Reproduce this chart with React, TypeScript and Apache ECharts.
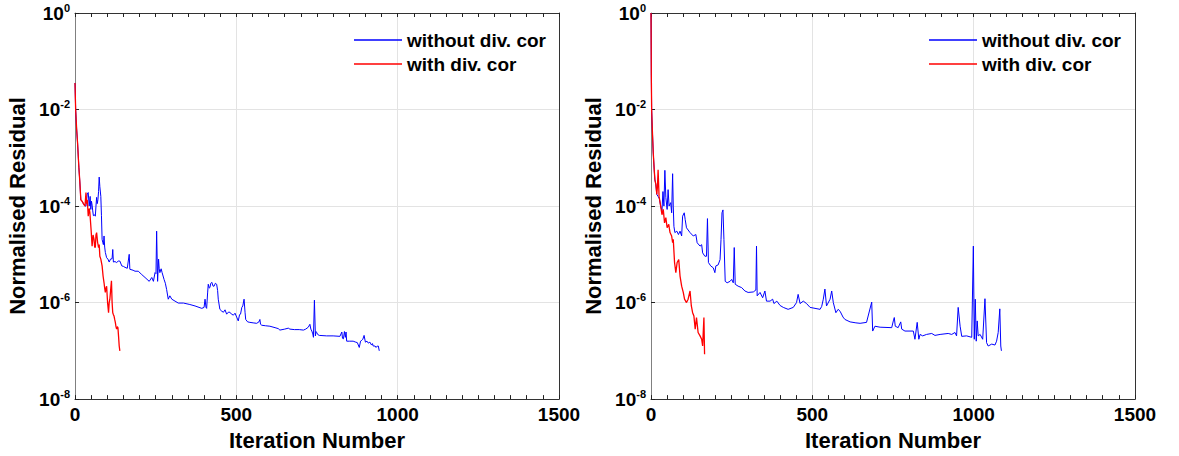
import React, { useEffect, useRef } from 'react';
import * as echarts from 'echarts';

// Each pair: [iteration, log10(normalised residual)]
const leftWithout: [number, number][] = [
  [0, -1.45], [2, -2.0], [5, -2.4], [8, -2.7], [12, -3.2], [15, -3.5], [18, -3.87], [22, -3.9], [26, -3.95], [31, -4.0],
  [34, -4.0], [38, -3.75], [41, -3.72], [44, -4.0], [47, -3.8], [49, -4.07], [51, -3.9], [53, -3.98], [55, -4.1], [57, -4.2],
  [60, -4.18], [63, -4.21], [65, -4.0], [67, -3.82], [69, -3.95], [71, -3.87], [73, -3.7], [75, -3.4], [77, -3.6], [80, -3.8],
  [82, -4.2], [84, -4.69], [86, -4.75], [88, -4.8], [90, -4.62], [92, -4.85], [94, -4.96], [98, -5.07], [102, -5.1], [106, -5.16],
  [110, -5.1], [115, -5.09], [117, -4.9], [119, -5.16], [124, -5.15], [129, -5.17], [134, -5.14], [139, -5.14], [145, -5.24],
  [150, -5.25], [155, -5.27], [162, -5.29], [168, -5.0], [170, -5.31], [180, -5.33], [186, -5.35], [196, -5.35], [207, -5.42],
  [217, -5.48], [230, -5.56], [238, -5.48], [243, -5.56], [248, -5.38], [251, -5.4], [253, -4.52], [256, -5.56], [259, -5.1],
  [261, -5.3], [263, -5.38], [267, -5.3], [270, -5.38], [276, -5.52], [280, -5.6], [284, -5.73], [289, -5.93], [294, -5.86],
  [300, -5.93], [310, -5.97], [320, -6.01], [336, -6.01], [356, -6.04], [372, -6.07], [393, -6.12], [400, -6.1], [403, -5.93],
  [406, -6.1], [408, -6.12], [411, -5.8], [413, -5.62], [416, -5.7], [418, -5.69], [421, -5.6], [424, -5.58], [428, -5.66],
  [431, -5.66], [435, -5.6], [439, -5.62], [442, -5.75], [444, -5.93], [449, -6.14], [455, -6.18], [460, -6.2], [465, -6.15],
  [470, -6.24], [475, -6.2], [480, -6.2], [485, -6.24], [491, -6.26], [496, -6.22], [501, -6.3], [506, -6.38], [510, -6.25],
  [513, -6.24], [517, -6.1], [520, -6.07], [524, -5.93], [527, -6.2], [529, -6.35], [535, -6.4], [542, -6.41], [552, -6.42],
  [563, -6.43], [570, -6.4], [573, -6.35], [575, -6.45], [579, -6.47], [590, -6.48], [604, -6.49], [620, -6.52], [630, -6.54],
  [635, -6.57], [650, -6.55], [661, -6.53], [666, -6.55], [680, -6.56], [695, -6.56], [708, -6.57], [715, -6.55], [723, -6.51],
  [728, -6.45], [731, -6.55], [734, -6.59], [737, -6.65], [739, -6.72], [742, -5.95], [745, -6.69], [747, -6.6], [749, -6.62],
  [752, -6.66], [757, -6.68], [780, -6.69], [800, -6.69], [821, -6.7], [827, -6.61], [829, -6.74], [832, -6.75], [835, -6.6],
  [838, -6.72], [840, -6.61], [842, -6.8], [850, -6.8], [862, -6.8], [870, -6.82], [875, -6.83], [881, -6.93], [885, -6.8],
  [889, -6.78], [892, -6.76], [896, -6.68], [900, -6.82], [905, -6.8], [909, -6.84], [914, -6.82], [919, -6.88], [922, -6.85],
  [924, -6.9], [930, -6.9], [933, -6.93], [937, -6.9], [940, -6.9], [943, -7.0],
];

const leftWith: [number, number][] = [
  [0, -1.45], [2, -2.0], [5, -2.4], [8, -2.7], [12, -3.2], [15, -3.5], [18, -3.87], [22, -3.9], [26, -3.95], [31, -4.0],
  [34, -3.72], [36, -3.95], [38, -3.87], [41, -4.21], [44, -4.05], [46, -4.13], [50, -4.5], [53, -4.83], [56, -4.6],
  [59, -4.69], [61, -4.85], [63, -4.86], [65, -4.6], [67, -4.55], [70, -4.75], [73, -4.86], [75, -4.8], [77, -5.04],
  [80, -5.1], [84, -5.24], [87, -5.45], [90, -5.59], [92, -5.7], [94, -5.79], [96, -5.7], [98, -5.66], [101, -6.0],
  [104, -6.21], [106, -6.0], [108, -5.93], [111, -5.7], [113, -5.55], [115, -6.0], [117, -6.21], [119, -6.25], [121, -6.28],
  [123, -6.35], [125, -6.41], [127, -6.5], [129, -6.55], [131, -6.5], [133, -6.52], [135, -6.7], [137, -6.9], [139, -7.0],
];

const rightWithout: [number, number][] = [
  [0, 0], [1, -1.3], [2, -2.0], [4, -2.4], [7, -2.9], [10, -3.25], [12, -3.45], [15, -3.55], [18, -3.76], [22, -3.8],
  [26, -3.85], [30, -4.0], [34, -4.1], [37, -3.7], [40, -4.0], [43, -3.26], [46, -3.82], [50, -4.07], [53, -3.66], [56, -4.0],
  [61, -3.93], [64, -4.14], [67, -3.33], [69, -4.0], [71, -4.42], [74, -4.55], [80, -4.52], [85, -4.59], [90, -4.52],
  [95, -4.62], [98, -4.21], [103, -4.14], [106, -4.28], [110, -4.45], [121, -4.55], [131, -4.62], [139, -4.59], [143, -4.76],
  [152, -4.83], [157, -4.8], [160, -4.97], [167, -5.04], [172, -5.04], [175, -4.26], [178, -5.17], [185, -5.24], [193, -5.28],
  [198, -5.38], [201, -5.24], [208, -5.22], [214, -5.11], [217, -4.69], [220, -4.14], [223, -4.08], [226, -4.69], [230, -5.56],
  [236, -5.59], [245, -5.56], [250, -5.52], [255, -5.59], [258, -4.86], [261, -5.62], [270, -5.66], [281, -5.69], [291, -5.76],
  [301, -5.79], [317, -5.78], [325, -5.74], [327, -4.83], [329, -5.86], [338, -5.79], [346, -5.9], [353, -5.76], [358, -5.97],
  [369, -5.97], [377, -5.93], [381, -6.02], [390, -5.97], [400, -6.06], [410, -6.1], [425, -6.14], [441, -6.1], [451, -6.0],
  [456, -5.83], [462, -6.02], [472, -5.97], [482, -6.02], [493, -6.1], [524, -6.14], [529, -6.08], [534, -5.93], [539, -5.72],
  [544, -6.07], [555, -5.93], [560, -5.76], [565, -6.0], [573, -6.21], [580, -6.14], [586, -6.18], [595, -6.3], [601, -6.35],
  [617, -6.4], [635, -6.42], [648, -6.43], [668, -6.41], [684, -5.99], [687, -6.59], [694, -6.49], [710, -6.51], [746, -6.52],
  [751, -6.38], [754, -6.31], [757, -6.49], [766, -6.52], [774, -6.4], [777, -6.55], [787, -6.59], [813, -6.59], [818, -6.76],
  [825, -6.41], [830, -6.76], [834, -6.66], [842, -6.69], [854, -6.66], [870, -6.64], [880, -6.68], [896, -6.66], [921, -6.64],
  [932, -6.66], [942, -6.62], [947, -6.69], [952, -6.1], [958, -6.49], [963, -6.7], [978, -6.69], [994, -6.72], [999, -4.83],
  [1002, -6.76], [1005, -5.93], [1008, -6.8], [1011, -6.38], [1014, -6.69], [1020, -6.66], [1028, -6.76], [1035, -5.92],
  [1040, -6.83], [1045, -6.9], [1056, -6.86], [1066, -6.88], [1071, -6.8], [1076, -6.62], [1081, -6.13], [1084, -6.9],
  [1086, -7.0],
];

const rightWith: [number, number][] = [
  [0, 0], [1, -1.3], [2, -2.0], [4, -2.4], [7, -2.9], [10, -3.25], [12, -3.45], [15, -3.55], [18, -3.76], [20, -3.6],
  [22, -3.25], [25, -3.8], [30, -4.0], [34, -4.18], [38, -4.07], [42, -4.35], [46, -4.24], [50, -4.45], [55, -4.38],
  [59, -4.55], [64, -4.62], [67, -4.76], [69, -4.69], [73, -5.17], [77, -5.38], [81, -5.17], [86, -5.11], [90, -5.45],
  [95, -5.66], [100, -5.79], [104, -5.93], [110, -6.0], [115, -5.93], [121, -5.76], [125, -6.07], [129, -6.21], [133, -6.28],
  [137, -6.55], [141, -6.31], [146, -6.62], [152, -6.69], [157, -6.76], [160, -6.9], [164, -6.31], [166, -7.07],
];

const seriesNames = ['without div. cor', 'with div. cor'];
const xTickValues = [0, 500, 1000, 1500];
const xTitle = 'Iteration Number';
const yTitle = 'Normalised Residual';

const FONT = '"Liberation Sans", Arial, Helvetica, sans-serif';
const BLUE = '#0000ff';
const RED = '#ff0000';
const GRIDC = '#e3e3e3';
const TICKC = '#222';

const toData = (arr: [number, number][]) => arr.map(([i, l]) => [i, Math.pow(10, l)]);

export default function App() {
  const ref = useRef<HTMLDivElement>(null);
  useEffect(() => {
    if (!ref.current) return;
    const chart = echarts.init(ref.current, undefined, { renderer: 'svg' });
    const plotLefts = [75, 651];
    const grid = plotLefts.map((l) => ({ left: l, top: 13, width: 484, height: 387 }));
    const xAxis: any[] = [];
    const yAxis: any[] = [];
    const xMin = xTickValues[0];
    const xMax = xTickValues[xTickValues.length - 1];
    plotLefts.forEach((_, g) => {
      xAxis.push({
        type: 'value', gridIndex: g, position: 'bottom',
        min: xMin, max: xMax, interval: 500,
        name: xTitle, nameLocation: 'middle', nameGap: 29,
        nameTextStyle: { fontSize: 22, fontWeight: 'bold', color: '#000', fontFamily: FONT },
        axisLine: { show: true, onZero: false, lineStyle: { color: '#333', width: 1 } },
        axisTick: { show: true, inside: true, length: 4, lineStyle: { color: TICKC, width: 1 } },
        minorTick: { show: true, splitNumber: 10, length: 4, lineStyle: { color: TICKC, width: 1 } },
        axisLabel: {
          fontSize: 19, fontWeight: 'bold', color: '#000', margin: 6, fontFamily: FONT,
          formatter: (v: number) => String(v),
        },
        splitLine: { show: true, lineStyle: { color: GRIDC, width: 1 } },
        minorSplitLine: { show: false },
      });
      xAxis.push({
        type: 'value', gridIndex: g, position: 'top',
        min: xMin, max: xMax, interval: 500,
        axisLine: { show: true, onZero: false, lineStyle: { color: '#333', width: 1 } },
        axisTick: { show: true, inside: true, length: 4, lineStyle: { color: TICKC, width: 1 } },
        minorTick: { show: true, splitNumber: 10, length: 4, lineStyle: { color: TICKC, width: 1 } },
        axisLabel: { show: false },
        splitLine: { show: false },
      });
      yAxis.push({
        type: 'log', logBase: 10, gridIndex: g, position: 'left',
        min: 1e-8, max: 1, interval: 2,
        name: yTitle, nameLocation: 'middle', nameGap: 47,
        nameTextStyle: { fontSize: 22, fontWeight: 'bold', color: '#000', fontFamily: FONT },
        axisLine: { show: true, onZero: false, lineStyle: { color: '#808080', width: 1 } },
        axisTick: { show: true, inside: true, length: 4, lineStyle: { color: TICKC, width: 1 } },
        axisLabel: {
          margin: 5,
          formatter: (v: number) => `{b|10}{s|${Math.round(Math.log10(v))}}`,
          rich: {
            b: { fontSize: 19, fontWeight: 'bold', color: '#000', fontFamily: FONT, lineHeight: 22 },
            s: { fontSize: 11, fontWeight: 'bold', color: '#000', fontFamily: FONT, verticalAlign: 'top', lineHeight: 12 },
          },
        },
        splitLine: { show: true, lineStyle: { color: GRIDC, width: 1 } },
      });
      yAxis.push({
        type: 'log', logBase: 10, gridIndex: g, position: 'right',
        min: 1e-8, max: 1, interval: 2,
        axisLine: { show: true, onZero: false, lineStyle: { color: '#333', width: 1 } },
        axisTick: { show: false },
        axisLabel: { show: false },
        splitLine: { show: false },
      });
    });

    const legendBase = {
      orient: 'vertical', top: 25, itemWidth: 48, itemHeight: 1.5, icon: 'rect', itemGap: 4,
      selectedMode: false, data: seriesNames,
      textStyle: { fontSize: 19, fontWeight: 'bold', color: '#000', fontFamily: FONT, lineHeight: 20 },
    };

    const mk = (name: string, data: [number, number][], g: number, color: string, width: number, z: number) => ({
      type: 'line', name, xAxisIndex: g * 2, yAxisIndex: g * 2, data: toData(data),
      showSymbol: false, symbol: 'none', color, lineStyle: { color, width }, z, silent: true,
    });

    chart.setOption({
      animation: false,
      backgroundColor: '#fff',
      grid,
      xAxis,
      yAxis,
      legend: [{ ...legendBase, left: 349 }, { ...legendBase, left: 924 }],
      series: [
        mk(seriesNames[0], leftWithout, 0, BLUE, 1, 2),
        mk(seriesNames[1], leftWith, 0, RED, 1.3, 3),
        mk(seriesNames[0], rightWithout, 1, BLUE, 1, 2),
        mk(seriesNames[1], rightWith, 1, RED, 1.3, 3),
      ],
    });
    return () => chart.dispose();
  }, []);
  return <div ref={ref} style={{ position: 'fixed', left: 0, top: 0, width: 1179, height: 456 }} />;
}
